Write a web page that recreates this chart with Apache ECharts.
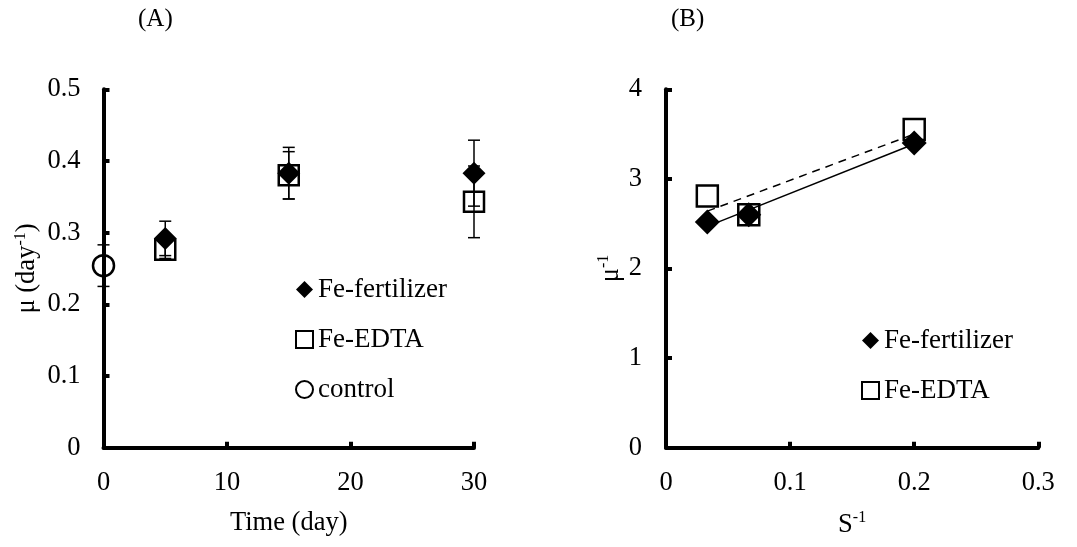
<!DOCTYPE html>
<html>
<head>
<meta charset="utf-8">
<script src="https://cdn.jsdelivr.net/npm/echarts@6/dist/echarts.min.js"></script>
<style>html,body{margin:0;padding:0;background:#fff}#c{width:1077px;height:547px}</style>
</head>
<body>
<div id="c"></div>
<script>
// ---- Panel A data ----
var days = [5, 15, 30];
var fertMu = [0.292, 0.383, 0.383];
var fertErr = [0.024, 0.036, 0.046];
var edtaMu = [0.276, 0.380, 0.343];
var edtaErr = [0.012, 0.033, 0.050];
var controlDay = [0];
var controlMu = [0.254];
var controlErr = [0.029];
var xTicksA = ['0', '10', '20', '30'];
var yTicksA = ['0', '0.1', '0.2', '0.3', '0.4', '0.5'];

// ---- Panel B data ----
var sInv = [0.0333, 0.0667, 0.2];
var fertInv = [2.52, 2.60, 3.40];
var edtaInv = [2.81, 2.60, 3.55];
var fitX = [0.0333, 0.2];
var fertFitY = [2.47, 3.39];
var edtaFitY = [2.64, 3.50];
var xTicksB = ['0', '0.1', '0.2', '0.3'];
var yTicksB = ['0', '1', '2', '3', '4'];

var FONT = 'Liberation Serif';
var FS = 26.5;
var chart = echarts.init(document.getElementById('c'));

function pairs(xs, ys) { return xs.map(function (x, i) { return [x, ys[i]]; }); }
function triples(xs, ys, es) { return xs.map(function (x, i) { return [x, ys[i], es[i]]; }); }

function errRender(params, api) {
  var x = api.value(0), y = api.value(1), e = api.value(2);
  var t = api.coord([x, y + e]), b = api.coord([x, y - e]);
  var w = 6, st = { stroke: '#000', lineWidth: 1.5 };
  return { type: 'group', children: [
    { type: 'line', shape: { x1: t[0], y1: t[1], x2: b[0], y2: b[1] }, style: st },
    { type: 'line', shape: { x1: t[0] - w, y1: t[1], x2: t[0] + w, y2: t[1] }, style: st },
    { type: 'line', shape: { x1: b[0] - w, y1: b[1], x2: b[0] + w, y2: b[1] }, style: st }
  ]};
}

var axisLine = { show: true, lineStyle: { color: '#000', width: 4 } };
var axisTick = { show: true, inside: true, length: 6, lineStyle: { color: '#000', width: 4 } };
var lblStyle = { fontFamily: FONT, fontSize: FS, color: '#000' };

function fmtFrom(arr, step) {
  return function (v) { var i = Math.round(v / step); return arr[i] !== undefined ? arr[i] : ''; };
}
function richName() {
  return { rich: {
    a: { fontFamily: FONT, fontSize: FS, color: '#000', lineHeight: 30 },
    s: { fontFamily: FONT, fontSize: 16, color: '#000', verticalAlign: 'top', lineHeight: 30, padding: [0, 0, 10, 0] }
  } };
}

var edtaStyle = { color: 'rgba(255,255,255,0)', borderColor: '#000', borderWidth: 2.5, opacity: 1 };
var fertStyle = { color: '#000', opacity: 1 };
var ctrlStyle = { color: 'rgba(255,255,255,0)', borderColor: '#000', borderWidth: 2.5, opacity: 1 };
var legText = { fontFamily: FONT, fontSize: 27, color: '#000', lineHeight: 27 };

var option = {
  backgroundColor: '#fff',
  animation: false,
  title: [
    { text: '(A)', left: 138, top: 7, padding: 0, textStyle: { fontFamily: FONT, fontSize: 25, fontWeight: 'normal', color: '#000' } },
    { text: '(B)', left: 671, top: 7, padding: 0, textStyle: { fontFamily: FONT, fontSize: 25, fontWeight: 'normal', color: '#000' } }
  ],
  grid: [
    { left: 103.5, top: 89.3, width: 370.5, height: 358.4 },
    { left: 666, top: 89.3, width: 372.3, height: 358.4 }
  ],
  legend: [
    {
      orient: 'vertical', left: 290, top: 271, itemWidth: 17, itemHeight: 17, itemGap: 23,
      textStyle: legText,
      data: [
        { name: 'Fe-fertilizer', icon: 'diamond', itemStyle: { color: '#000' } },
        { name: 'Fe-EDTA', icon: 'rect', itemStyle: { color: '#fff', borderColor: '#000', borderWidth: 2 } },
        { name: 'control', icon: 'circle', itemStyle: { color: '#fff', borderColor: '#000', borderWidth: 2 } }
      ]
    },
    {
      orient: 'vertical', left: 856, top: 322, itemWidth: 17, itemHeight: 17, itemGap: 23,
      textStyle: legText,
      data: [
        { name: 'Fe-fertilizer', icon: 'diamond', itemStyle: { color: '#000' } },
        { name: 'Fe-EDTA', icon: 'rect', itemStyle: { color: '#fff', borderColor: '#000', borderWidth: 2 } }
      ]
    }
  ],
  xAxis: [
    {
      gridIndex: 0, type: 'value', min: 0, max: 30, interval: 10,
      axisLine: axisLine, axisTick: axisTick, splitLine: { show: false },
      axisLabel: Object.assign({ margin: 22, formatter: fmtFrom(xTicksA, 10) }, lblStyle),
      name: 'Time (day)', nameLocation: 'middle', nameGap: 62, nameTextStyle: lblStyle
    },
    {
      gridIndex: 1, type: 'value', min: 0, max: 0.3, interval: 0.1,
      axisLine: axisLine, axisTick: axisTick, splitLine: { show: false },
      axisLabel: Object.assign({ margin: 22, formatter: fmtFrom(xTicksB, 0.1) }, lblStyle),
      name: '{a|S}{s|-1}', nameLocation: 'middle', nameGap: 62,
      nameTextStyle: richName()
    }
  ],
  yAxis: [
    {
      gridIndex: 0, type: 'value', min: 0, max: 0.5, interval: 0.1,
      axisLine: axisLine, axisTick: axisTick, splitLine: { show: false },
      axisLabel: Object.assign({ margin: 23, formatter: fmtFrom(yTicksA, 0.1) }, lblStyle),
      name: '{a|μ (day}{s|-1}{a|)}', nameLocation: 'middle', nameGap: 61,
      nameTextStyle: richName()
    },
    {
      gridIndex: 1, type: 'value', min: 0, max: 4, interval: 1,
      axisLine: axisLine, axisTick: axisTick, splitLine: { show: false },
      axisLabel: Object.assign({ margin: 24, formatter: fmtFrom(yTicksB, 1) }, lblStyle),
      name: '{a|μ}{s|-1}', nameLocation: 'middle', nameGap: 40,
      nameTextStyle: richName()
    }
  ],
  series: [
    // Panel A error bars
    { type: 'custom', xAxisIndex: 0, yAxisIndex: 0, renderItem: errRender, encode: { x: 0, y: 1 }, data: triples(days, fertMu, fertErr), z: 3, silent: true },
    { type: 'custom', xAxisIndex: 0, yAxisIndex: 0, renderItem: errRender, encode: { x: 0, y: 1 }, data: triples(days, edtaMu, edtaErr), z: 3, silent: true },
    { type: 'custom', xAxisIndex: 0, yAxisIndex: 0, renderItem: errRender, encode: { x: 0, y: 1 }, data: triples(controlDay, controlMu, controlErr), z: 3, silent: true },
    // Panel A markers
    { name: 'Fe-EDTA', type: 'scatter', xAxisIndex: 0, yAxisIndex: 0, symbol: 'rect', symbolSize: 20, itemStyle: edtaStyle, data: pairs(days, edtaMu), z: 4 },
    { name: 'Fe-fertilizer', type: 'scatter', xAxisIndex: 0, yAxisIndex: 0, symbol: 'diamond', symbolSize: 23, itemStyle: fertStyle, data: pairs(days, fertMu), z: 5 },
    { name: 'control', type: 'scatter', xAxisIndex: 0, yAxisIndex: 0, symbol: 'circle', symbolSize: 21, itemStyle: ctrlStyle, data: pairs(controlDay, controlMu), z: 5 },
    // Panel B trend lines
    { type: 'line', xAxisIndex: 1, yAxisIndex: 1, data: pairs(fitX, fertFitY), symbol: 'none', lineStyle: { color: '#000', width: 1.5, type: 'solid' }, z: 3, silent: true },
    { type: 'line', xAxisIndex: 1, yAxisIndex: 1, data: pairs(fitX, edtaFitY), symbol: 'none', lineStyle: { color: '#000', width: 1.5, type: [8, 6] }, z: 3, silent: true },
    // Panel B markers
    { name: 'Fe-EDTA', type: 'scatter', xAxisIndex: 1, yAxisIndex: 1, symbol: 'rect', symbolSize: 21, itemStyle: edtaStyle, data: pairs(sInv, edtaInv), z: 4 },
    { name: 'Fe-fertilizer', type: 'scatter', xAxisIndex: 1, yAxisIndex: 1, symbol: 'diamond', symbolSize: 25, itemStyle: fertStyle, data: pairs(sInv, fertInv), z: 5 }
  ]
};
chart.setOption(option);
</script>
</body>
</html>
